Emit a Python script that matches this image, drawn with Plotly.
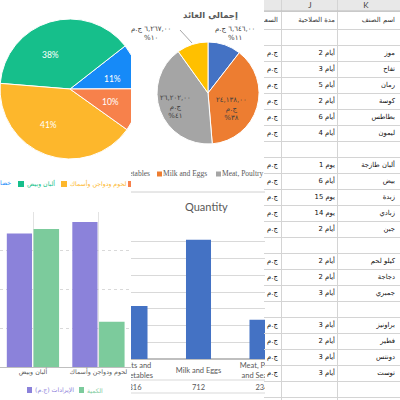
import plotly.graph_objects as go

# ---------------- data ----------------
cat_ar = ["خضار وفواكه", "ألبان وبيض", "لحوم ودواجن وأسماك", "مخبوزات"]
cat_en = ["Fruits and Vegetables", "Milk and Eggs", "Meat, Poultry and Seafood", "Bakery"]
revenue = [6646, 24138, 26202, 6267]      # ج.م
quantity = [316, 712, 234]                 # first three categories (bakery hidden)

title_rev = "إجمالي العائد"
title_qty = "Quantity"
legend_rev = "الإيرادات (ج.م)"
legend_qty = "الكمية"
currency = "ج.م"

sheet_letters = ["J", "K"]
sheet_head = ["السعر", "مدة الصلاحية", "اسم الصنف"]
item_groups = [
    ["موز", "تفاح", "رمان", "كوسة", "بطاطس", "ليمون"],
    ["ألبان طازجة", "بيض", "زبدة", "زبادي", "جبن"],
    ["كيلو لحم", "دجاجة", "جمبري"],
    ["براونيز", "فطير", "دونتس", "توست"],
]
shelf_days = [
    [2, 3, 5, 2, 6, 4],
    [1, 6, 15, 14, 2],
    [2, 2, 3],
    [3, 2, 3, 3],
]

# ---------------- styles ----------------
pieA_colors = ["#168AF8", "#16BF8B", "#FDB72C", "#F7814B"]
pieB_colors = ["#4472C4", "#ED7D31", "#A5A5A5", "#FFC000"]
purple, green, blue = "#8B82DA", "#7CCB9C", "#4472C4"
AR = "DejaVu Sans"
LAT = "Lato"
GRAYTXT = "#595959"
RLM = "\u200f"

W = H = 400.0


def X(p):
    return p / W


def Y(p):
    return 1 - p / H


def ar_digits(s):
    return s.translate(str.maketrans("0123456789.", "٠١٢٣٤٥٦٧٨٩,"))


def ann(x, y, text, size, color, family=AR, xanchor="center", yanchor="middle"):
    return dict(x=X(x), y=Y(y), xref="paper", yref="paper", text=text, showarrow=False,
                font=dict(size=size, color=color, family=family),
                xanchor=xanchor, yanchor=yanchor, borderpad=0)


def rect(x0, y0, x1, y1, color, layer="above"):
    return dict(type="rect", xref="paper", yref="paper", x0=X(x0), x1=X(x1), y0=Y(y1), y1=Y(y0),
                fillcolor=color, line=dict(width=0), layer=layer)


def hline(x0, x1, y, color="#D9D9D9"):
    return dict(type="line", xref="paper", yref="paper", x0=X(x0), x1=X(x1), y0=Y(y), y1=Y(y),
                line=dict(color=color, width=1), layer="above")


fig = go.Figure()

# ---------- pie A (top-left) ----------
fig.add_trace(go.Pie(
    labels=cat_ar, values=revenue, sort=False, direction="counterclockwise", rotation=52,
    marker=dict(colors=pieA_colors, line=dict(color="white", width=1)),
    textinfo="none",
    domain=dict(x=[0, X(140)], y=[Y(159), Y(19)]), hoverinfo="skip", showlegend=False))

# ---------- pie B (top-middle) ----------
fig.add_trace(go.Pie(
    labels=cat_en, values=revenue, sort=False, direction="clockwise", rotation=0,
    marker=dict(colors=pieB_colors, line=dict(color="white", width=1)),
    textinfo="none", domain=dict(x=[X(157), X(259)], y=[Y(144), Y(42)]),
    hoverinfo="skip", showlegend=False))

# ---------- grouped bars (bottom-left) ----------
n3 = 3
fig.add_trace(go.Bar(x=cat_ar[:n3], y=revenue[:n3], xaxis="x", yaxis="y2",
                     marker=dict(color=purple, line=dict(width=0)), width=0.385, offset=-0.4,
                     hoverinfo="skip", showlegend=False))
fig.add_trace(go.Bar(x=cat_ar[:n3], y=quantity, xaxis="x", yaxis="y",
                     marker=dict(color=green, line=dict(width=0)), width=0.39, offset=0.008,
                     hoverinfo="skip", showlegend=False))

# ---------- Quantity bars (bottom-middle) ----------
fig.add_trace(go.Bar(x=cat_en[:n3], y=quantity, xaxis="x2", yaxis="y3",
                     marker=dict(color=blue, line=dict(width=0)), width=0.394,
                     hoverinfo="skip", showlegend=False))


def wrap(s, n=13):
    words, lines, cur = s.split(), [], ""
    for w in words:
        if cur and len(cur) + 1 + len(w) > n:
            lines.append(cur)
            cur = w
        else:
            cur = (cur + " " + w).strip()
    lines.append(cur)
    return "<br>".join(lines)


qscale = 134 / 800.0          # px per unit on the Quantity axis
qbottom = -(400 - 359) / qscale
fig.add_trace(go.Scatter(x=cat_en[:n3], y=[-(371 - 359) / qscale] * n3, mode="text",
                         text=[wrap(c) for c in cat_en[:n3]], cliponaxis=True,
                         textfont=dict(size=7.5, color=GRAYTXT, family=LAT),
                         xaxis="x2", yaxis="y3", hoverinfo="skip", showlegend=False))
fig.add_trace(go.Scatter(x=cat_en[:n3], y=[-(388 - 359) / qscale] * n3, mode="text",
                         text=[str(q) for q in quantity], cliponaxis=True,
                         textfont=dict(size=7.5, color=GRAYTXT, family=LAT),
                         xaxis="x2", yaxis="y3", hoverinfo="skip", showlegend=False))

# ---------- pie B legend (clipped to its panel) ----------
fig.add_trace(go.Scatter(x=[150], y=[174], mode="text", text=[cat_en[0]], textposition="middle left",
                         textfont=dict(size=7.5, color=GRAYTXT, family="Liberation Serif"),
                         cliponaxis=True, xaxis="x3", yaxis="y4", hoverinfo="skip", showlegend=False))
fig.add_trace(go.Scatter(x=[163, 222], y=[174, 174], mode="text", text=[cat_en[1], cat_en[2]],
                         textposition="middle right",
                         textfont=dict(size=7.5, color=GRAYTXT, family="Liberation Serif"),
                         cliponaxis=True, xaxis="x3", yaxis="y4", hoverinfo="skip", showlegend=False))
fig.add_trace(go.Scatter(x=[159.5, 218.5], y=[174, 174], mode="markers",
                         marker=dict(symbol="square", size=5, color=pieB_colors[1:3]),
                         cliponaxis=True, xaxis="x3", yaxis="y4", hoverinfo="skip", showlegend=False))

# ---------- spreadsheet (text on its own grid) ----------
col_i, col_j, col_k = [""], [""], [""]
for names, days in zip(item_groups, shelf_days):
    for nm, d in zip(names, days):
        unit = "أيام" if 2 <= d <= 10 else "يوم"
        col_i.append(currency)
        col_j.append(f"{d} {unit}")
        col_k.append(nm)
    col_i.append("")
    col_j.append("")
    col_k.append("")
row_y = [37 + 16 * r for r in range(len(col_k))]
row_borders = [11, 29] + [45 + 16 * r for r in range(len(col_k))]
for xs, col, pos in [(272.5, col_i, "middle center"), (335, col_j, "middle left"),
                     (395, col_k, "middle left")]:
    fig.add_trace(go.Scatter(x=[xs] * len(col), y=row_y, mode="text", text=col, textposition=pos,
                             textfont=dict(size=6.8, color="#111111", family=AR),
                             cliponaxis=True, xaxis="x4", yaxis="y5",
                             hoverinfo="skip", showlegend=False))
fig.add_trace(go.Scatter(x=[278, 335, 395], y=[20, 20, 20], mode="text", text=sheet_head,
                         textposition="middle left", textfont=dict(size=6.8, color="#333333", family=AR),
                         cliponaxis=True, xaxis="x4", yaxis="y5", hoverinfo="skip", showlegend=False))
fig.add_trace(go.Scatter(x=[310, 366], y=[6, 6], mode="text", text=sheet_letters,
                         textposition="middle center", textfont=dict(size=8, color="#444444", family=LAT),
                         cliponaxis=True, xaxis="x4", yaxis="y5", hoverinfo="skip", showlegend=False))

# ---------- mask: the top-middle panel covers pie A's right edge ----------
fig.add_trace(go.Table(
    domain=dict(x=[X(131), X(153)], y=[Y(170), 1]),
    header=dict(values=[""], height=100, fill_color="white", line=dict(color="white", width=0)),
    cells=dict(values=[[""]], height=66, fill_color="white", line=dict(color="white", width=0))))

# ---------------- layout ----------------
layout = dict(
    width=400, height=400, margin=dict(l=0, r=0, t=0, b=0),
    paper_bgcolor="white", plot_bgcolor="rgba(0,0,0,0)", showlegend=False, barmode="overlay",
    xaxis=dict(domain=[0, X(131)], type="category", categoryorder="array", categoryarray=cat_ar[:n3],
               range=[0.496, 2.496], showgrid=True, gridcolor="#E3E3E3", ticks="",
               showline=True, linecolor="#BFBFBF", tickfont=dict(size=6.3, color=GRAYTXT, family=AR),
               ticklabelstandoff=-2, anchor="y", fixedrange=True),
    yaxis=dict(domain=[Y(367), Y(212)], range=[0, 800], dtick=200, showgrid=True,
               gridcolor="#D9D9D9", griddash="dot", showticklabels=False, zeroline=False,
               anchor="x", fixedrange=True),
    yaxis2=dict(overlaying="y", range=[0, 28000], visible=False, anchor="x"),
    xaxis2=dict(domain=[X(131), X(265)], type="category", categoryorder="array",
                categoryarray=cat_en[:n3], range=[(131 - 135) / 63.5, (265 - 135) / 63.5],
                showticklabels=False, showgrid=False, zeroline=False, showline=False, anchor="y3"),
    yaxis3=dict(domain=[0, Y(225)], range=[qbottom, 800], tickvals=list(range(0, 801, 100)),
                showgrid=True, gridcolor="#D9D9D9", zeroline=True, zerolinecolor="#BFBFBF",
                showticklabels=False, anchor="x2"),
    xaxis3=dict(domain=[X(131), X(264)], range=[131, 264], visible=False, anchor="y4"),
    yaxis4=dict(domain=[Y(195), 1], range=[195, 0], visible=False, anchor="x3"),
    xaxis4=dict(domain=[X(264), 1], range=[264, 400], tickvals=[281, 337], showgrid=True,
                gridcolor="#D4D4D4", showticklabels=False, zeroline=False, ticks="", anchor="y5"),
    yaxis5=dict(domain=[0, 1], range=[400, 0], tickvals=row_borders, showgrid=True,
                gridcolor="#D4D4D4", showticklabels=False, zeroline=False, ticks="", anchor="x4"),
)

shapes = [
    # spreadsheet column-letter band
    dict(type="rect", xref="x4", yref="y5", x0=264, x1=400, y0=0, y1=11, fillcolor="#E8E8E8",
         line=dict(width=0), layer="below"),
    dict(type="line", xref="x4", yref="y5", x0=264, x1=400, y0=11, y1=11,
         line=dict(color="#BDBDBD", width=1)),
    hline(131, 265, 192, "#D0D0D0"),
    # pie A legend squares
    rect(18, 181, 24, 187, pieA_colors[1]),
    rect(61, 181, 67, 187, pieA_colors[2]),
    rect(128, 181, 131, 187, pieA_colors[3]),
    # leader line of pie B
    dict(type="line", xref="paper", yref="paper", x0=X(180), y0=Y(30), x1=X(192), y1=Y(43),
         line=dict(color="#A6A6A6", width=1)),
    # Quantity data-table rules
    hline(131, 265, 380),
    hline(131, 265, 393),
    # bottom-left legend squares
    rect(27, 387, 32, 393, purple),
    rect(79, 387, 84, 393, green),
]

total = sum(revenue)
pct = [round(v * 100 / total) for v in revenue]
money = [ar_digits(f"{v:,.2f}") for v in revenue]
pieA_label_pos = [(113, 79), (50, 55), (48, 125), (110, 102)]

annotations = [
    # pie A slice labels
    *[ann(px, py, f"{p}%", 8.5, "white", family=LAT) for (px, py), p in zip(pieA_label_pos, pct)],
    # pie A legend texts
    ann(12, 183, cat_ar[0], 6.2, pieA_colors[0], xanchor="right"),
    ann(26, 183, cat_ar[1], 6.2, pieA_colors[1], xanchor="left"),
    ann(69, 183, cat_ar[2], 6.2, pieA_colors[2], xanchor="left"),
    # pie B
    ann(210, 15, "<b>" + title_rev + "</b>", 8.5, GRAYTXT),
    ann(235, 33, f"{money[0]} {currency}<br>%{ar_digits(str(pct[0]))}", 7, "#404040"),
    ann(232, 109, f"{money[1]}<br>{currency}<br>%{ar_digits(str(pct[1]))}", 7, "#404040"),
    ann(175, 107, f"{money[2]}<br>{currency}<br>%{ar_digits(str(pct[2]))}", 7, "#404040"),
    ann(151, 33, f"{money[3]} {currency}<br>%{ar_digits(str(pct[3]))}", 7, "#404040"),
    # Quantity title
    ann(207, 207, title_qty, 11, GRAYTXT, family=LAT),
    # bottom-left legend
    ann(34, 390, legend_rev + RLM, 6.2, purple, xanchor="left"),
    ann(86, 390, legend_qty, 6.2, green, xanchor="left"),
]

layout["shapes"] = shapes
layout["annotations"] = annotations
fig.update_layout(**layout)
fig.write_html("out.html", config={"displayModeBar": False},
               post_script="document.body.style.margin='0px';")
